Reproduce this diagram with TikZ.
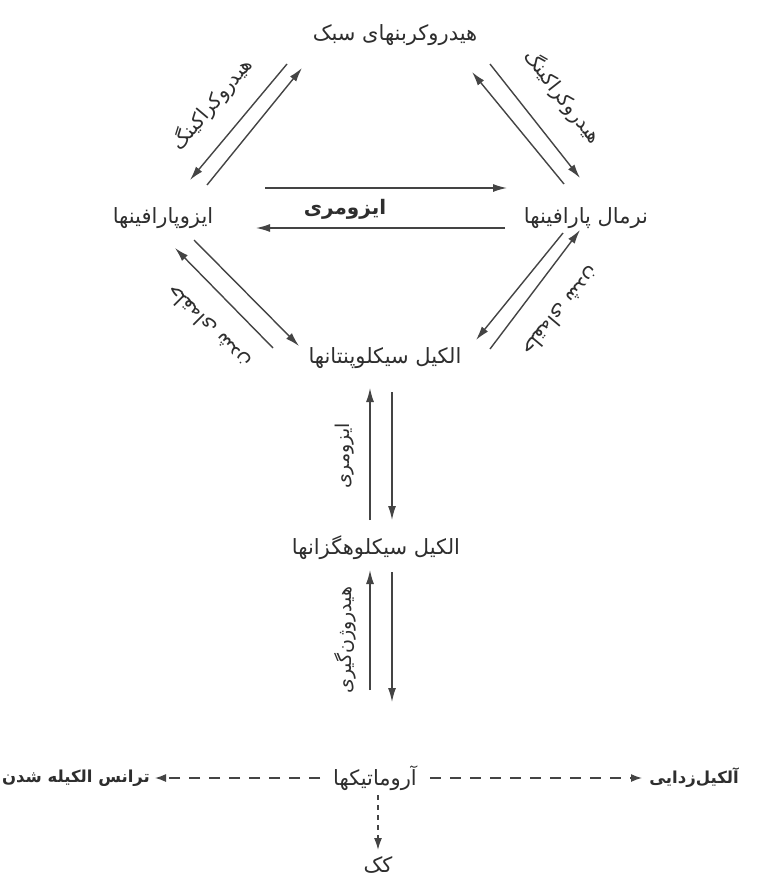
\documentclass[tikz,border=0pt]{standalone}
\usepackage{fontspec}
\newfontfamily\arabicfont[Script=Arabic]{DejaVu Sans}
\TeXXeTstate=1
\usetikzlibrary{arrows.meta}
\definecolor{ink}{HTML}{2E2E2E}
\definecolor{arr}{HTML}{444444}
\begin{document}
\begin{tikzpicture}[x=1pt,y=-1pt,
  lbl/.style={font=\arabicfont\fontsize{21}{24}\selectfont, text=ink, inner sep=0pt},
  blbl/.style={font=\arabicfont\bfseries\fontsize{16.5}{20}\selectfont, text=ink, inner sep=0pt},
  mlbl/.style={font=\arabicfont\bfseries\fontsize{20}{23}\selectfont, text=ink, inner sep=0pt},
  elbl/.style={font=\arabicfont\fontsize{20}{23}\selectfont, text=ink, inner sep=0pt},
  vlbl/.style={font=\arabicfont\fontsize{19}{22}\selectfont, text=ink, inner sep=0pt, rotate=90},
  rx/.style={draw=arr, line width=1.4pt, -{Latex[length=14pt,width=8pt]}},
  dx/.style={draw=arr, line width=1.4pt, dash pattern=on 11pt off 9pt, -{Latex[length=11pt,width=8pt]}},
  vx/.style={draw=arr, line width=1.6pt, dash pattern=on 5pt off 5pt, -{Latex[length=12pt,width=8pt]}}
]
\useasboundingbox[fill=white] (0,0) rectangle (756,880);

% main nodes
\node[lbl] (light) at (395,35) {\beginR هیدروکربنهای سبک\endR};
\node[lbl] (iso) at (163,218) {\beginR ایزوپارافینها\endR};
\node[lbl] (norm) at (586,218) {\beginR نرمال پارافینها\endR};
\node[lbl] (pent) at (385,358) {\beginR الکیل سیکلوپنتانها\endR};
\node[lbl] (hex) at (376,548) {\beginR الکیل سیکلوهگزانها\endR};
\node[lbl] (arom) at (375,778) {\beginR آروماتیکها\endR};
\node[blbl] (trans) at (76,778) {\beginR ترانس الکیله شدن\endR};
\node[blbl] (dealk) at (694,778) {\beginR آلکیل‌زدایی\endR};
\node[lbl] (coke) at (378,865) {\beginR کک\endR};

% arrow end points
\coordinate (ula) at (287,64);  \coordinate (ulb) at (190,180);
\coordinate (ulc) at (207,185); \coordinate (uld) at (302,68);
\coordinate (ura) at (490,64);  \coordinate (urb) at (580,178);
\coordinate (urc) at (564,184); \coordinate (urd) at (472,72);
\coordinate (lla) at (273,348); \coordinate (llb) at (175,248);
\coordinate (llc) at (194,240); \coordinate (lld) at (299,346);
\coordinate (lra) at (563,233); \coordinate (lrb) at (476,340);
\coordinate (lrc) at (490,349); \coordinate (lrd) at (580,230);
\coordinate (ha) at (265,188);  \coordinate (hb) at (507,188);
\coordinate (hc) at (505,228);  \coordinate (hd) at (256,228);
\coordinate (v1a) at (370,520); \coordinate (v1b) at (370,388);
\coordinate (v1c) at (392,392); \coordinate (v1d) at (392,520);
\coordinate (v2a) at (370,690); \coordinate (v2b) at (370,570);
\coordinate (v2c) at (392,572); \coordinate (v2d) at (392,702);
\coordinate (da) at (320,778);  \coordinate (db) at (155,778);
\coordinate (dc) at (430,778);  \coordinate (dd) at (642,778);
\coordinate (ka) at (378,795);  \coordinate (kb) at (378,850);

% arrows
\draw[rx] (ula) -- (ulb);
\draw[rx] (ulc) -- (uld);
\draw[rx] (ura) -- (urb);
\draw[rx] (urc) -- (urd);
\draw[rx] (lla) -- (llb);
\draw[rx] (llc) -- (lld);
\draw[rx] (lra) -- (lrb);
\draw[rx] (lrc) -- (lrd);
\draw[rx] (ha) -- (hb);
\draw[rx] (hc) -- (hd);
\draw[rx] (v1a) -- (v1b);
\draw[rx] (v1c) -- (v1d);
\draw[rx] (v2a) -- (v2b);
\draw[rx] (v2c) -- (v2d);
\draw[dx] (da) -- (db);
\draw[dx] (dc) -- (dd);
\draw[vx] (ka) -- (kb);

% edge labels
\node[elbl, rotate=50] (lul) at (212,104) {\beginR هیدروکراکینگ\endR};
\node[elbl, rotate=-52] (lur) at (563,97) {\beginR هیدروکراکینگ\endR};
\node[mlbl] (liso) at (345,209) {\beginR ایزومری\endR};
\node[elbl, rotate=135] (lll) at (209,327) {\beginR حلقه‌ای شدن\endR};
\node[elbl, rotate=230] (llr) at (561,311) {\beginR حلقه‌ای شدن\endR};
\node[vlbl] (lv1) at (345,456) {\beginR ایزومری\endR};
\node[vlbl] (lv2) at (345,640) {\beginR هیدروژن‌گیری\endR};
\end{tikzpicture}
\end{document}
